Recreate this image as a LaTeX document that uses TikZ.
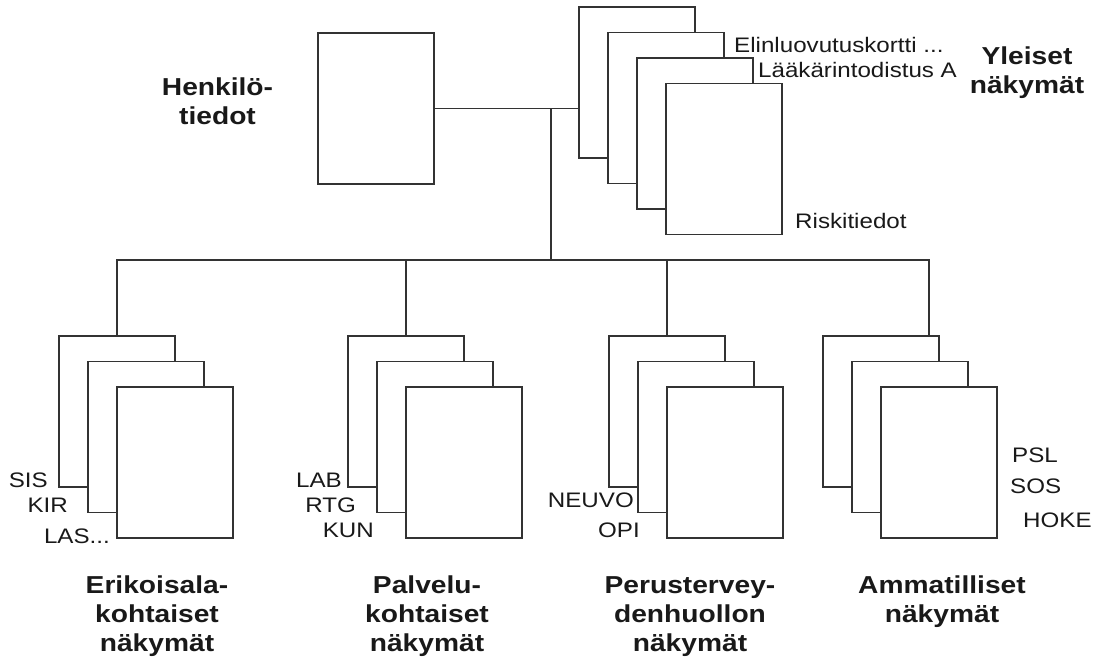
\documentclass[tikz,border=0pt]{standalone}
\usepackage{fontspec}
\newfontfamily\diafont{Liberation Sans}[FakeStretch=1.15]
\usetikzlibrary{positioning, calc}

\begin{document}
\begin{tikzpicture}[
  x=1pt, y=-1pt,
  sheet/.style={rectangle, draw=black!80, line width=1.5pt, fill=white, minimum width=116pt, minimum height=151pt, inner sep=0pt},
  title/.style={font=\diafont\bfseries\fontsize{24.5}{29}\selectfont, align=center, anchor=north, inner sep=0pt, text=black!90},
  code/.style={font=\diafont\fontsize{21}{25}\selectfont, inner sep=0pt, text=black!90},
  link/.style={draw=black!80, line width=1.5pt}
]
    \useasboundingbox (0,0) rectangle (1099,657);

    % Henkilotiedot
    \node[sheet] (h) at (376,108.5) {};
    \node[title] (ht) at (217.5,78) {Henkilö-\\tiedot};

    % Yleiset nakymat
    \node[sheet] (y1) at (637,82.5) {};
    \node[sheet] (y2) at ($(y1)+(29,25.5)$) {};
    \node[sheet] (y3) at ($(y2)+(29,25.5)$) {};
    \node[sheet] (y4) at ($(y3)+(29,25.5)$) {};
    \node[title] (yt) at (1027,47) {Yleiset\\näkymät};
    \node[code, anchor=base west] (yl1) at (734,52) {Elinluovutuskortti ...};
    \node[code, anchor=base west] (yl2) at (758,77) {Lääkärintodistus A};
    \node[code, anchor=base west] (yl3) at (795,228) {Riskitiedot};

    % Erikoisalakohtaiset
    \node[sheet] (e1) at (117,411.5) {};
    \node[sheet] (e2) at ($(e1)+(29,25.5)$) {};
    \node[sheet] (e3) at ($(e2)+(29,25.5)$) {};
    \node[code, anchor=base east] (el1) at (48,487) {SIS};
    \node[code, anchor=base east] (el2) at (68,512) {KIR};
    \node[code, anchor=base east] (el3) at (110,543) {LAS...};
    \node[title] (et) at (157,576) {Erikoisala-\\kohtaiset\\näkymät};

    % Palvelukohtaiset
    \node[sheet] (p1) at (406,411.5) {};
    \node[sheet] (p2) at ($(p1)+(29,25.5)$) {};
    \node[sheet] (p3) at ($(p2)+(29,25.5)$) {};
    \node[code, anchor=base east] (pl1) at (342,487) {LAB};
    \node[code, anchor=base east] (pl2) at (356,512) {RTG};
    \node[code, anchor=base east] (pl3) at (374,537) {KUN};
    \node[title] (pt) at (427,576) {Palvelu-\\kohtaiset\\näkymät};

    % Perusterveydenhuollon
    \node[sheet] (r1) at (667,411.5) {};
    \node[sheet] (r2) at ($(r1)+(29,25.5)$) {};
    \node[sheet] (r3) at ($(r2)+(29,25.5)$) {};
    \node[code, anchor=base east] (rl1) at (634,507) {NEUVO};
    \node[code, anchor=base east] (rl2) at (640,537) {OPI};
    \node[title] (rt) at (690,576) {Perustervey-\\denhuollon\\näkymät};

    % Ammatilliset
    \node[sheet] (a1) at (881,411.5) {};
    \node[sheet] (a2) at ($(a1)+(29,25.5)$) {};
    \node[sheet] (a3) at ($(a2)+(29,25.5)$) {};
    \node[code, anchor=base west] (al1) at (1012,462) {PSL};
    \node[code, anchor=base west] (al2) at (1010,493) {SOS};
    \node[code, anchor=base west] (al3) at (1023,527) {HOKE};
    \node[title] (at) at (942,576) {Ammatilliset\\näkymät};

    % Connectors
    \coordinate (jt) at (551,108.5);
    \coordinate (jb) at (551,260);
    \coordinate (am) at ($(a1.north east)+(-11,0)$);
    \draw[link] (h.east) -- (h.east -| y1.west);
    \draw[link] (jt) -- (jb);
    \draw[link] (e1.north) |- (jb);
    \draw[link] (p1.north) |- (jb);
    \draw[link] (r1.north) |- (jb);
    \draw[link] (am) |- (jb);

\end{tikzpicture}
\end{document}
